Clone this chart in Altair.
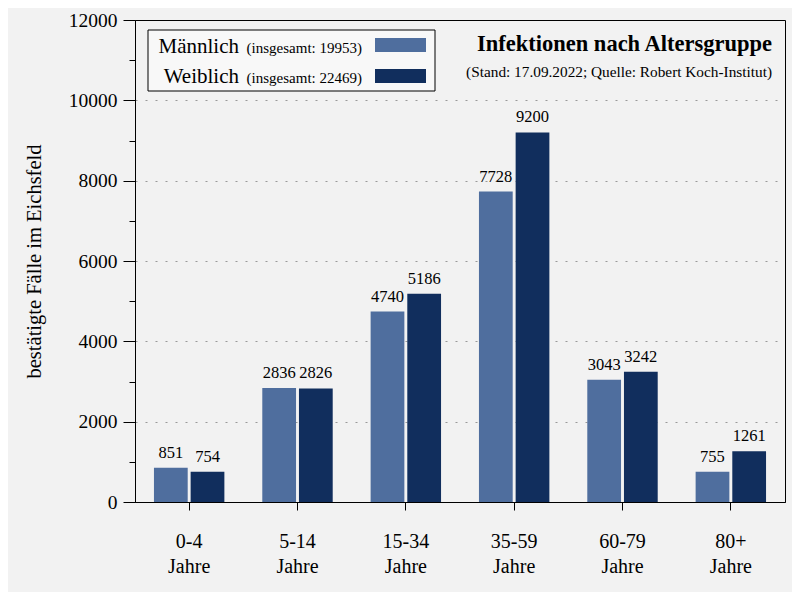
import altair as alt
import pandas as pd

# ---- data ----
categories = ["0-4", "5-14", "15-34", "35-59", "60-79", "80+"]
maennlich = [851, 2836, 4740, 7728, 3043, 755]
weiblich = [754, 2826, 5186, 9200, 3242, 1261]
series = ["Männlich", "Weiblich"]
colors = ["#4F6E9E", "#112E5D"]
title_text = "Infektionen nach Altersgruppe"
subtitle_text = "(Stand: 17.09.2022; Quelle: Robert Koch-Institut)"
y_title = "bestätigte Fälle im Eichsfeld"

rows = []
for cat, m, w in zip(categories, maennlich, weiblich):
    rows.append({"Altersgruppe": cat, "Geschlecht": series[0], "Faelle": m})
    rows.append({"Altersgruppe": cat, "Geschlecht": series[1], "Faelle": w})
df = pd.DataFrame(rows)

totals = [sum(maennlich), sum(weiblich)]
legend_df = pd.DataFrame({
    "name": series,
    "total": [f"(insgesamt: {t})" for t in totals],
    "color": colors,
})

FONT = "Liberation Serif"

x_enc = alt.X(
    "Altersgruppe:N",
    sort=categories,
    scale=alt.Scale(paddingInner=0.35, paddingOuter=0.175),
    axis=alt.Axis(
        title=None,
        labelExpr="[datum.label, 'Jahre']",
        labelFontSize=20,
        labelLineHeight=25,
        labelPadding=21,
        labelAngle=0,
        tickSize=8,
        labelColor="black",
    ),
)
xoff_enc = alt.XOffset("Geschlecht:N", sort=series, scale=alt.Scale(paddingInner=0.08))
y_enc = alt.Y(
    "Faelle:Q",
    scale=alt.Scale(domain=[0, 12000], nice=False),
    axis=alt.Axis(
        title=y_title,
        titleFontSize=20.5,
        titleFontWeight="normal",
        titleColor="black",
        titlePadding=24,
        values=list(range(0, 12001, 1000)),
        format="d",
        labelExpr="datum.value % 2000 === 0 ? datum.label : ''",
        labelFontSize=19.5,
        labelPadding=6,
        labelColor="black",
        tickSize={"condition": {"test": "datum.value % 2000 === 0", "value": 12}, "value": 6},
        grid=True,
        gridDash=[2, 8],
        gridColor="#999999",
        gridOpacity={"condition": {"test": "datum.value % 2000 === 0 && datum.value > 0 && datum.value < 12000", "value": 1}, "value": 0},
    ),
)
color_enc = alt.Color(
    "Geschlecht:N",
    scale=alt.Scale(domain=series, range=colors),
    legend=None,
)

base = alt.Chart(df)
bars = base.mark_bar().encode(x=x_enc, xOffset=xoff_enc, y=y_enc, color=color_enc)
labels = base.mark_text(dy=-10, baseline="alphabetic", fontSize=16.5, color="black").encode(
    x=x_enc, xOffset=xoff_enc, y=y_enc, text=alt.Text("Faelle:Q", format="d")
)

# ---- legend box (manual, labels left of swatches) ----
one = alt.Chart(pd.DataFrame({"k": [0]}))
box = one.mark_rect(fill="#F8F8F8", stroke="black", strokeWidth=1).encode(
    x=alt.value(13), x2=alt.value(300), y=alt.value(10), y2=alt.value(71)
)
leg = alt.Chart(legend_df)
legend_layers = []
row_y = [(18, 32, 33), (49, 63, 63)]
for i, (y0, y1, yb) in enumerate(row_y):
    sub = leg.transform_filter(alt.datum.name == series[i])
    legend_layers.append(
        sub.mark_rect().encode(
            x=alt.value(240), x2=alt.value(291), y=alt.value(y0), y2=alt.value(y1),
            color=alt.Color("color:N", scale=None),
        )
    )
    legend_layers.append(
        sub.mark_text(align="right", baseline="alphabetic", fontSize=21, color="black").encode(
            x=alt.value(104), y=alt.value(yb), text="name:N"
        )
    )
    legend_layers.append(
        sub.mark_text(align="right", baseline="alphabetic", fontSize=15, color="black").encode(
            x=alt.value(227), y=alt.value(yb), text="total:N"
        )
    )

# ---- title inside plot ----
tdf = alt.Chart(pd.DataFrame({"t": [title_text], "s": [subtitle_text]}))
title_mark = tdf.mark_text(align="right", baseline="alphabetic", fontSize=22.5, fontWeight="bold", color="black").encode(
    x=alt.value(637), y=alt.value(31), text="t:N"
)
sub_mark = tdf.mark_text(align="right", baseline="alphabetic", fontSize=15.3, color="black").encode(
    x=alt.value(637), y=alt.value(57), text="s:N"
)

chart = alt.layer(bars, labels, box, *legend_layers, title_mark, sub_mark).properties(
    width=650,
    height=482,
    autosize=alt.AutoSizeParams(type="none"),
    padding={"left": 127, "top": 12, "right": 7, "bottom": 90},
    background="#F2F2F2",
).configure(font=FONT).configure_view(
    stroke="black", strokeWidth=1
).configure_axis(
    domainColor="black", tickColor="black", domainWidth=1, tickWidth=1, labelFont=FONT, titleFont=FONT
)

chart.save("out.html", embed_options={"renderer": "svg", "actions": False})
